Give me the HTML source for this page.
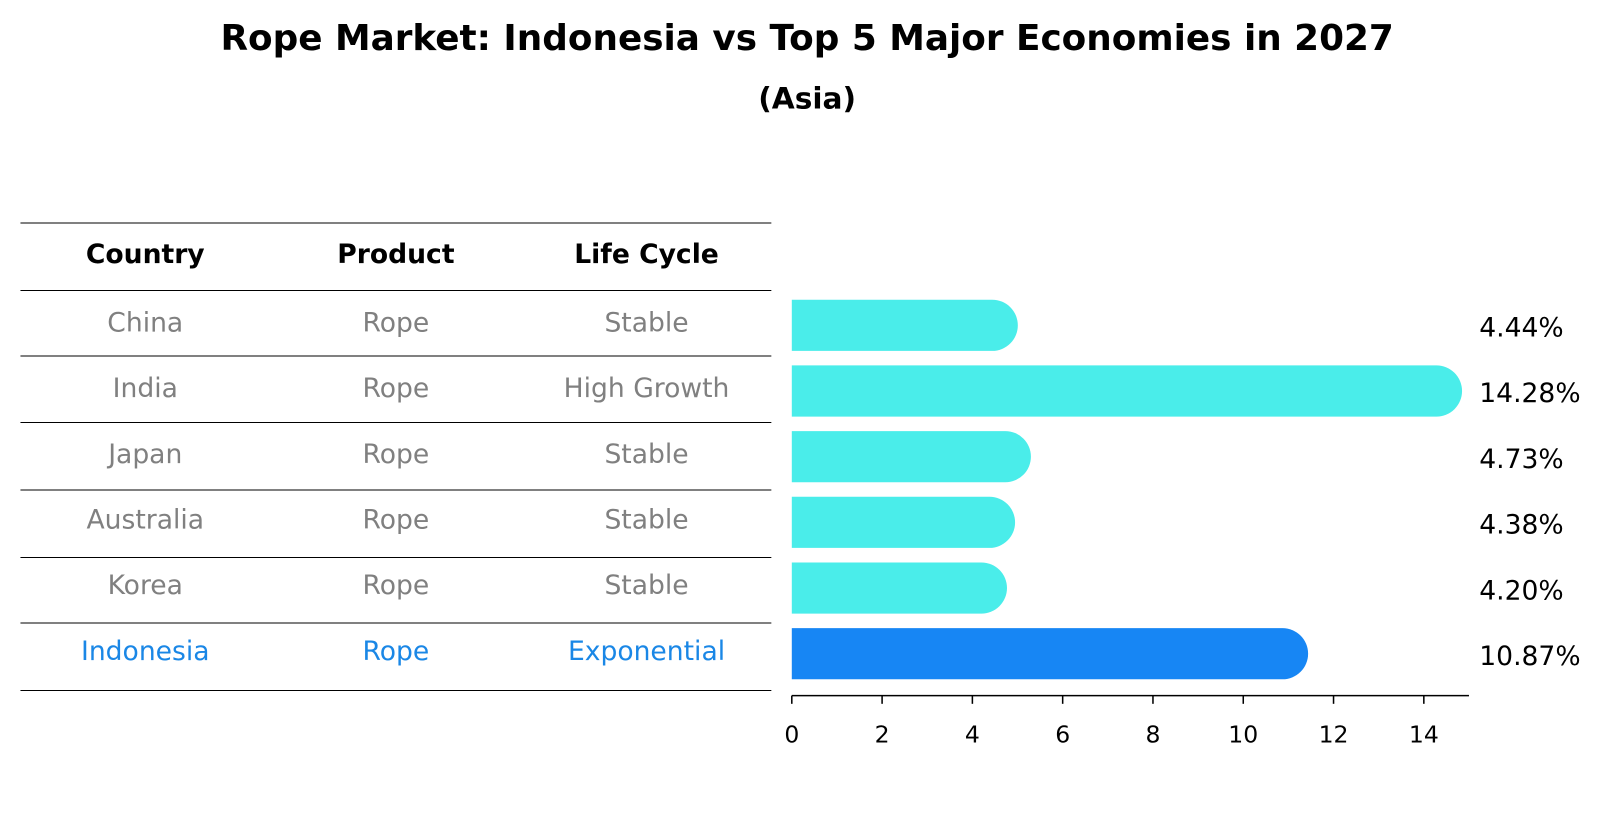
<!DOCTYPE html>
<html><head><meta charset="utf-8"><style>
body{margin:0;background:#fff;font-family:"Liberation Sans","DejaVu Sans",sans-serif;}
</style></head><body>
<svg width="1604" height="823" xmlns="http://www.w3.org/2000/svg" font-family="DejaVu Sans, Liberation Sans, sans-serif">
<g transform="scale(1.023)">
<text x="789" y="49" text-anchor="middle" font-size="35" font-weight="bold">Rope Market: Indonesia vs Top 5 Major Economies in 2027</text>
<text x="789" y="106" text-anchor="middle" font-size="29" font-weight="bold">(Asia)</text>
<g id="table"></g>
<g id="bars"></g>
</g>
</svg>
<script>
const countries=["China","India","Japan","Australia","Korea","Indonesia"];
const products=["Rope","Rope","Rope","Rope","Rope","Rope"];
const cycles=["Stable","High Growth","Stable","Stable","Stable","Exponential"];
const values=[4.44,14.28,4.73,4.38,4.20,10.87];
const ticks=[0,2,4,6,8,10,12,14];
const NS="http://www.w3.org/2000/svg";
const x0=774, pxu=44.13;
const xs=v=>x0+v*pxu;
const rowY=i=>318+i*64.2;
function mk(t,a,p){const e=document.createElementNS(NS,t);for(const k in a)e.setAttribute(k,a[k]);p.appendChild(e);return e;}
const tb=document.getElementById('table');
const lines=[218,284,348,413,479,545,609,675];
lines.forEach(y=>{const l=mk('line',{x1:20,x2:754,y1:y,y2:y,stroke:'#000','stroke-width':1},tb);

});
const cx=[142,387,632];
["Country","Product","Life Cycle"].forEach((h,j)=>{const t=mk('text',{x:cx[j],y:257,'text-anchor':'middle','font-size':26,'font-weight':'bold'},tb);t.textContent=h;

});
countries.forEach((c,i)=>{const col=i===5?'#1a87e6':'#808080';[c,products[i],cycles[i]].forEach((v,j)=>{const t=mk('text',{x:cx[j],y:rowY(i)+6,'text-anchor':'middle','font-size':26,fill:col},tb);t.textContent=v;

});});
const g=document.getElementById('bars');
const h=50,r=25;
values.forEach((v,i)=>{const yc=rowY(i),xe=xs(v);const col=i===5?'#1786f4':'#4aedea';
const p=mk('path',{d:`M${x0} ${yc-h/2} H${xe} A${r} ${r} 0 0 1 ${xe} ${yc+h/2} H${x0} Z`,fill:col},g);


const t=mk('text',{x:1446,y:yc+11,'font-size':26},g);t.textContent=v.toFixed(2)+'%';

});
const ax=mk('line',{x1:x0,x2:xs(15),y1:680,y2:680,stroke:'#000','stroke-width':1.5},g);


ticks.forEach(v=>{const l=mk('line',{x1:xs(v),x2:xs(v),y1:680,y2:688,stroke:'#000','stroke-width':1.5},g);


const t=mk('text',{x:xs(v),y:726,'text-anchor':'middle','font-size':23},g);t.textContent=v;

});
</script>
</body></html>
